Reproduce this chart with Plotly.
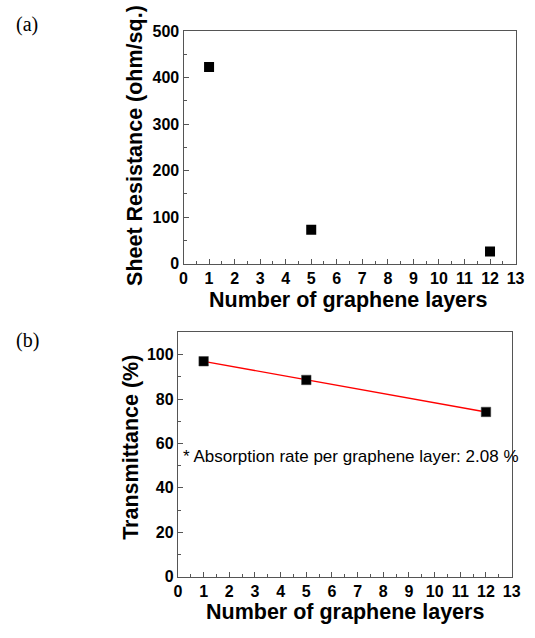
import numpy as np
import plotly.graph_objects as go

# Data
layers = [1, 5, 12]
sheet_resistance = [423, 73, 26]
transmittance = [97.0, 88.6, 74.2]
x_ticks = list(range(0, 14))
res_ticks = [0, 100, 200, 300, 400, 500]
trans_ticks = [0, 20, 40, 60, 80, 100]
note_text = "* Absorption rate per graphene layer: 2.08 %"

# linear fit of the transmittance data
coef = np.polyfit(layers, transmittance, 1)
fit_x = [min(layers), max(layers)]
fit_y = list(np.polyval(coef, fit_x))

W, H = 535, 638
AX = "#555555"
FONT = "Liberation Sans, Arial, sans-serif"
TICKFONT = dict(family=FONT, size=16, color="black")

fig = go.Figure()
fig.add_trace(go.Scatter(x=layers, y=sheet_resistance, mode="markers",
                         marker=dict(symbol="square", size=10, color="black"),
                         xaxis="x", yaxis="y", showlegend=False))
fig.add_trace(go.Scatter(x=fit_x, y=fit_y, mode="lines",
                         line=dict(color="red", width=1.3),
                         xaxis="x2", yaxis="y2", showlegend=False))
fig.add_trace(go.Scatter(x=layers, y=transmittance, mode="markers",
                         marker=dict(symbol="square", size=9.5, color="black",
                                     line=dict(color="#444", width=0.5)),
                         xaxis="x2", yaxis="y2", showlegend=False))

def bold(vals):
    return ["<b>%s</b>" % v for v in vals]

def xax(domain, anchor):
    return dict(domain=domain, anchor=anchor, range=[0, 13],
                tickvals=x_ticks, ticktext=bold(x_ticks),
                ticks="inside", ticklen=5, tickwidth=1,
                tickcolor=AX, showline=True, linecolor=AX, linewidth=1.2,
                mirror=True, showgrid=False, zeroline=False,
                minor=dict(dtick=0.5, ticks="inside", ticklen=3, tickcolor=AX),
                tickfont=TICKFONT)

def yax(domain, anchor, rng, vals, minor_dt):
    return dict(domain=domain, anchor=anchor, range=rng,
                tickvals=vals, ticktext=bold(vals),
                ticks="inside", ticklen=5, tickwidth=1,
                tickcolor=AX, showline=True, linecolor=AX, linewidth=1.2,
                mirror=True, showgrid=False, zeroline=False,
                minor=dict(dtick=minor_dt, ticks="inside", ticklen=3, tickcolor=AX),
                tickfont=TICKFONT)

y1_top, y1_bot = 23.7, 262.7
y2_top, y2_bot = 333.3, 584.3
fig.update_layout(
    width=W, height=H, margin=dict(l=0, r=0, t=0, b=0),
    paper_bgcolor="white", plot_bgcolor="white",
    xaxis=xax([184 / W, 524.3 / W], "y"),
    yaxis=yax([1 - y1_bot / H, 1 - y1_top / H], "x", [0, 500], res_ticks, 50),
    xaxis2=xax([178.3 / W, 520.3 / W], "y2"),
    yaxis2=yax([1 - y2_bot / H, 1 - y2_top / H], "x2", [0, 110], trans_ticks, 10),
)

def ann(text, x, y, size, angle=0, bold=True, family=FONT, xanchor="center"):
    fig.add_annotation(text=text, x=x / W, y=1 - y / H, xref="paper", yref="paper",
                       showarrow=False, textangle=angle, xanchor=xanchor, yanchor="middle",
                       font=dict(family=family, size=size, color="black",
                                 weight="bold" if bold else "normal"))

ann("<b>Sheet Resistance (ohm/sq.)</b>", 135, 141, 21.5, angle=-90)
ann("<b>Number of graphene layers</b>", 353, 300, 21.5)
ann("<b>Transmittance (%)</b>", 130, 451, 21.5, angle=-90)
ann("<b>Number of graphene layers</b>", 349, 621, 21.5)
ann("(a)", 24, 17, 20, bold=False, family="Liberation Serif, Times New Roman, serif")
ann("(b)", 24, 342, 20, bold=False, family="Liberation Serif, Times New Roman, serif")
ann(note_text, 181, 461, 17, bold=False, xanchor="left")

fig.write_html("out.html")
